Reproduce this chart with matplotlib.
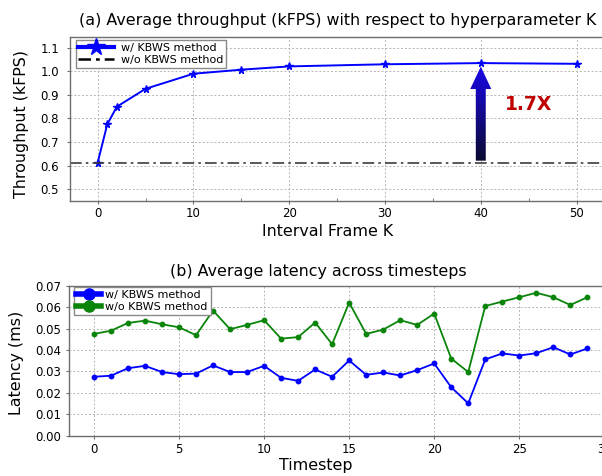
import matplotlib
matplotlib.use("Agg")
import matplotlib.pyplot as plt
import numpy as np
from matplotlib.patches import FancyArrow
from matplotlib.colors import LinearSegmentedColormap
from matplotlib.ticker import MultipleLocator, FormatStrFormatter

plt.rcParams['font.family'] = ['DejaVu Sans']

# === Dati ===
# (a) throughput vs K
k_values = [0, 1, 2, 5, 10, 15, 20, 30, 40, 50]
throughput_kbws = [0.613, 0.775, 0.850, 0.926, 0.990, 1.007, 1.021, 1.030, 1.035, 1.032]
throughput_base = 0.613
speedup_label = "1.7X"
speedup_k = 40

# (b) latenza per timestep
timesteps = list(range(30))
latency_kbws = [0.0275, 0.0280, 0.0315, 0.0326, 0.0297, 0.0287, 0.0290, 0.0328, 0.0297, 0.0297,
                0.0326, 0.0270, 0.0256, 0.0309, 0.0275, 0.0351, 0.0284, 0.0295, 0.0281, 0.0306,
                0.0337, 0.0226, 0.0151, 0.0356, 0.0384, 0.0374, 0.0385, 0.0413, 0.0379, 0.0407]
latency_base = [0.0475, 0.0490, 0.0526, 0.0537, 0.0520, 0.0506, 0.0469, 0.0584, 0.0497, 0.0517,
                0.0539, 0.0453, 0.0460, 0.0528, 0.0427, 0.0621, 0.0475, 0.0495, 0.0539, 0.0517,
                0.0570, 0.0360, 0.0297, 0.0605, 0.0626, 0.0646, 0.0667, 0.0646, 0.0610, 0.0646]

label_w = "w/ KBWS method"
label_wo = "w/o KBWS method"

TXT = 11.4
TICK = 8.5
LEG = 8.0
GRID = dict(color='#b5b5b5', linestyle=(0, (2, 2)), linewidth=0.7)
SPINE = '#6e6e6e'
DASHDOT = (7, 2.5, 1.5, 2.5)


def style_axes(ax, ypad):
    ax.grid(True, **GRID)
    ax.set_axisbelow(True)
    for s in ax.spines.values():
        s.set_color(SPINE)
        s.set_linewidth(1.0)
    ax.tick_params(axis='both', which='major', length=2.5, width=0.8, color=SPINE,
                   labelsize=TICK, labelcolor='black')
    ax.tick_params(axis='y', pad=ypad)


fig = plt.figure(figsize=(6.02, 4.76), dpi=100)

# === (a) ===
ax1 = fig.add_axes([70 / 602, 1 - 201 / 476, 542 / 602, 164.3 / 476])
style_axes(ax1, 5.3)
ax1.tick_params(axis='x', pad=1.5)
ax1.plot(k_values, throughput_kbws, color='#0000ff', lw=1.4, marker='*', ms=5.5, label=label_w)
ax1.axhline(throughput_base, color='#3c3c3c', lw=1.2, linestyle='-.', dashes=DASHDOT,
            label=label_wo)

# freccia con gradiente
top_val = max(throughput_kbws) - 0.015
arrow = FancyArrow(speedup_k, throughput_base + 0.008, 0, top_val - throughput_base - 0.008,
                   width=1.04, head_width=2.2, head_length=0.095, length_includes_head=True,
                   facecolor='none', edgecolor='none')
ax1.add_patch(arrow)
cmap = LinearSegmentedColormap.from_list('arr', ['#0b0b2c', '#1a08e8'])
grad = np.linspace(0, 1, 256).reshape(-1, 1)
img = ax1.imshow(grad, extent=[speedup_k - 1.2, speedup_k + 1.2, throughput_base, top_val],
                 origin='lower', aspect='auto', cmap=cmap, zorder=3)
img.set_clip_path(arrow)
ax1.text(45, 0.859, speedup_label, color='#c00000', fontsize=13.5, fontweight='bold',
         ha='center', va='center')

ax1.set_xlim(-2.89, 53.7)
ax1.set_ylim(0.45, 1.147)
ax1.set_xticks([0, 10, 20, 30, 40, 50])
ax1.xaxis.set_minor_locator(MultipleLocator(5))
ax1.tick_params(axis='x', which='minor', direction='in', length=2.5, color=SPINE)
ax1.set_yticks([0.5, 0.6, 0.7, 0.8, 0.9, 1.0, 1.1])
ax1.yaxis.set_major_formatter(FormatStrFormatter('%.1f'))
ax1.set_xlabel("Interval Frame K", fontsize=TXT)
ax1.xaxis.set_label_coords((327.5 - 70) / 542, -0.14)
ax1.set_ylabel("Throughput (kFPS)", fontsize=TXT)
ax1.yaxis.set_label_coords(-0.075, 0.469)

leg1 = ax1.legend(loc='upper left', bbox_to_anchor=(0.0105, 0.98), borderaxespad=0,
                  fontsize=LEG, fancybox=False, framealpha=1, edgecolor='#8a8a8a',
                  handlelength=3.2, handletextpad=0.6, borderpad=0.25, labelspacing=0.2)
leg1.get_frame().set_linewidth(1.0)
leg1.get_lines()[0].set_linewidth(3)
leg1.get_lines()[0].set_markersize(13)
leg1.get_lines()[1].set_linewidth(1.8)
leg1.get_lines()[1].set_color('black')
leg1.get_lines()[1].set_dashes((5, 2, 1.5, 2))

fig.text(338 / 602, 1 - 20 / 476, "(a) Average throughput (kFPS) with respect to hyperparameter K",
         ha='center', va='center', fontsize=TXT)

# === (b) ===
ax2 = fig.add_axes([69.3 / 602, 1 - 435.7 / 476, 542.7 / 602, 150 / 476])
style_axes(ax2, 3.5)
ax2.tick_params(axis='x', pad=2.8)
ax2.plot(timesteps, latency_kbws, color='#0000ff', lw=1.3, marker='o', ms=3.2, label=label_w)
ax2.plot(timesteps, latency_base, color='#0a850a', lw=1.3, marker='o', ms=3.2, label=label_wo)
ax2.set_xlim(-1.45, 30.45)
ax2.set_ylim(0, 0.07)
ax2.set_xticks([0, 5, 10, 15, 20, 25, 30])
ax2.set_yticks(np.arange(0, 0.071, 0.01))
ax2.yaxis.set_major_formatter(FormatStrFormatter('%.2f'))
ax2.set_xlabel("Timestep", fontsize=TXT)
ax2.xaxis.set_label_coords((316 - 69.3) / 542.7, -0.15)
ax2.set_ylabel("Latency (ms)", fontsize=TXT)
ax2.yaxis.set_label_coords(-0.083, 0.485)

leg2 = ax2.legend(loc='upper left', bbox_to_anchor=(0.0081, 0.989), borderaxespad=0,
                  fontsize=LEG, fancybox=False, framealpha=1, edgecolor='#8a8a8a',
                  handlelength=2.2, handletextpad=0.4, borderpad=0.25, labelspacing=0.2)
leg2.get_frame().set_linewidth(1.0)
for ln in leg2.get_lines():
    ln.set_linewidth(4)
    ln.set_markersize(8)

fig.text(318 / 602, 1 - 271.7 / 476, "(b) Average latency across timesteps",
         ha='center', va='center', fontsize=TXT)

fig.savefig("out.png", dpi=100)
